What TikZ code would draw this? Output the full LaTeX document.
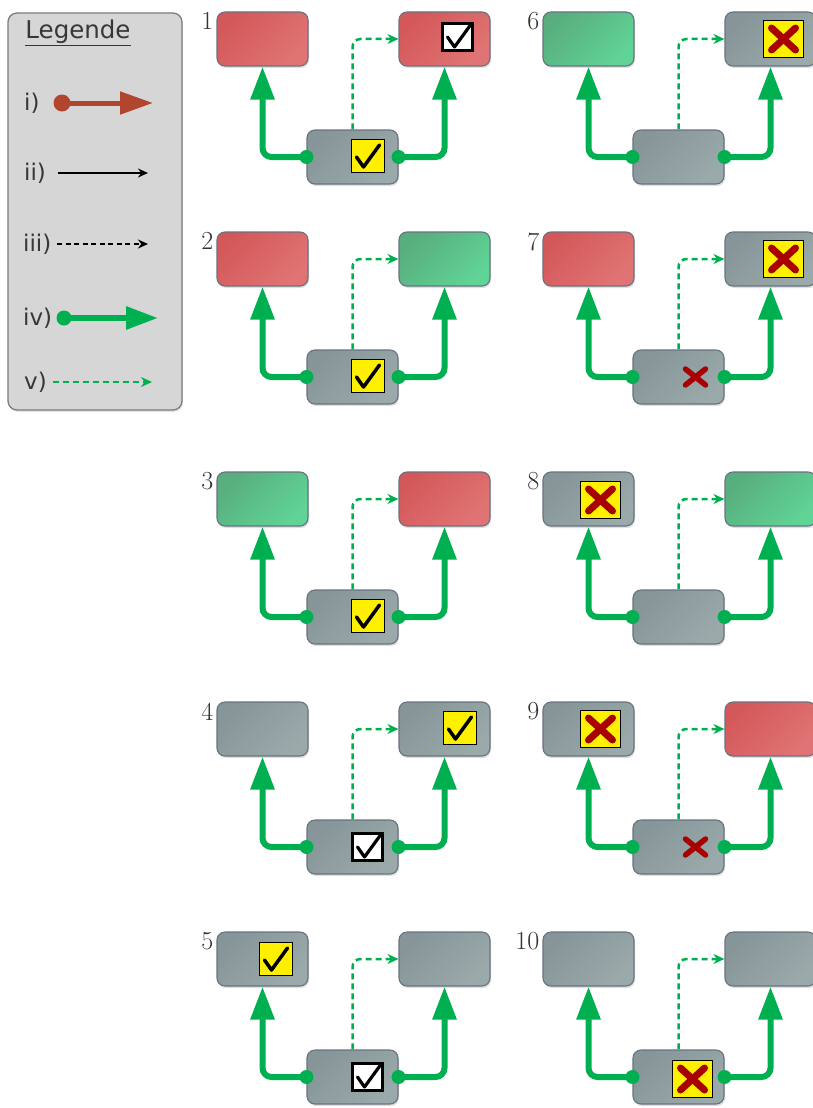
\documentclass[tikz,border=0pt]{standalone}
\usepackage{fontspec}
\newfontfamily\legfont{DejaVu Sans}
\usetikzlibrary{arrows.meta,shadows,calc}

\definecolor{flowgreen}{RGB}{0,176,80}
\definecolor{legbrown}{RGB}{176,70,46}
\definecolor{boxline}{RGB}{105,114,130}
\definecolor{redA}{RGB}{212,88,90}
\definecolor{redB}{RGB}{224,116,116}
\definecolor{greenA}{RGB}{88,174,126}
\definecolor{greenB}{RGB}{96,212,150}
\definecolor{grayA}{RGB}{134,150,152}
\definecolor{grayB}{RGB}{154,169,170}
\definecolor{legfill}{RGB}{214,214,214}
\definecolor{legline}{RGB}{120,124,130}
\definecolor{legtext}{RGB}{55,55,55}
\definecolor{crossred}{RGB}{168,0,0}
\definecolor{tickyellow}{RGB}{255,240,0}

% one scenario: left, right and bottom state boxes with their connectors
\newcommand\panel[7]{%
  \node[statebox,#5] (#1l) at (#2+45.5,#3+27) {};
  \node[statebox,#6] (#1r) at (#2+227.5,#3+27) {};
  \node[statebox,#7] (#1b) at (#2+135.5,#3+145) {};
  \node[num] (#1n) at ([xshift=-3pt,yshift=-1pt]#1l.north west) {#4};
  \draw[signal] (#1b.north) |- (#1r.west);
  \draw[flow] (#1b.west) -| (#1l.south);
  \draw[flow] (#1b.east) -| (#1r.south);
  \fill[flowgreen] (#1b.west) circle (7);
  \fill[flowgreen] (#1b.east) circle (7);
}

\begin{document}
\begin{tikzpicture}[x=1pt,y=-1pt,
  statebox/.style={rounded corners=8pt, minimum width=91pt, minimum height=54pt,
    draw=boxline, line width=1.1pt,
    drop shadow={shadow xshift=1pt,shadow yshift=-2pt,opacity=0.25}},
  redst/.style={top color=redA, bottom color=redB, shading angle=45},
  greenst/.style={top color=greenA, bottom color=greenB, shading angle=45},
  grayst/.style={top color=grayA, bottom color=grayB, shading angle=45},
  num/.style={anchor=north east, inner sep=0pt, font=\fontsize{26}{26}\selectfont, text=black!80},
  flow/.style={flowgreen, line width=6pt, rounded corners=9pt,
    -{Triangle[length=33pt,width=23pt]}},
  signal/.style={flowgreen, line width=2.5pt, dash pattern=on 6pt off 4pt,
    rounded corners=8pt, -{Stealth[length=11pt,width=10pt]}},
  ychk/.style={fill=tickyellow, draw=black, line width=0.8pt, minimum size=33pt, inner sep=0pt,
    path picture={\draw[black, line width=3.5pt, line join=round, line cap=round]
      ([shift={(-11,1)}]path picture bounding box.center) --
      ([shift={(-4,11)}]path picture bounding box.center) --
      ([shift={(12,-11)}]path picture bounding box.center);}},
  wchk/.style={fill=white, draw=black, line width=2.5pt, minimum width=30pt, minimum height=27pt, inner sep=0pt,
    path picture={\draw[black, line width=3.2pt, line join=round, line cap=round]
      ([shift={(-10,0)}]path picture bounding box.center) --
      ([shift={(-3,10)}]path picture bounding box.center) --
      ([shift={(13,-12)}]path picture bounding box.center);}},
  yx/.style={fill=tickyellow, draw=black, line width=0.9pt, minimum width=40pt, minimum height=37pt, inner sep=0pt,
    path picture={\draw[crossred, line width=7pt, line cap=round]
      ([shift={(-12,-11)}]path picture bounding box.center) --
      ([shift={(12,11)}]path picture bounding box.center)
      ([shift={(-12,11)}]path picture bounding box.center) --
      ([shift={(12,-11)}]path picture bounding box.center);}},
  rx/.style={minimum width=30pt, minimum height=26pt, inner sep=0pt,
    path picture={\draw[crossred, line width=5.5pt, line cap=round]
      ([shift={(-10,-8)}]path picture bounding box.center) --
      ([shift={(10,8)}]path picture bounding box.center)
      ([shift={(-10,8)}]path picture bounding box.center) --
      ([shift={(10,-8)}]path picture bounding box.center);}},
  legtxt/.style={anchor=west, inner sep=0pt, text=legtext, font=\legfont\fontsize{23}{23}\selectfont},
]
\useasboundingbox (0,0) rectangle (813,1108);
\clip (0,0) rectangle (813,1108);
\fill[white] (0,0) rectangle (813,1108);

% legend
\node[rounded corners=9pt, fill=legfill, draw=legline, line width=1.3pt,
  minimum width=174pt, minimum height=397pt,
  drop shadow={shadow xshift=1pt,shadow yshift=-2pt,opacity=0.2}] (leg) at (95,211.5) {};
\node[inner sep=0pt, text=legtext, font=\legfont\fontsize{24.5}{24.5}\selectfont] (legtitle) at (78,33) {\underline{Legende}};
\node[legtxt] (li) at (24,103) {i)};
\node[legtxt] (lii) at (24,173) {ii)};
\node[legtxt] (liii) at (23,244) {iii)};
\node[legtxt] (liv) at (23,318) {iv)};
\node[legtxt] (lv) at (24,382) {v)};
\coordinate (l1a) at (62,103);  \coordinate (l1b) at (153,103);
\coordinate (l2a) at (58,173);  \coordinate (l2b) at (148,173);
\coordinate (l3a) at (57,244);  \coordinate (l3b) at (148,244);
\coordinate (l4a) at (64,318);  \coordinate (l4b) at (158,318);
\coordinate (l5a) at (53,382);  \coordinate (l5b) at (152,382);
\draw[legbrown, line width=5pt, -{Triangle[length=33pt,width=22pt]}] (l1a) -- (l1b);
\fill[legbrown] (l1a) circle (8.5);
\draw[black, line width=1.8pt, -{Stealth[length=10pt,width=9pt]}] (l2a) -- (l2b);
\draw[black, line width=1.8pt, dash pattern=on 5pt off 3.5pt, -{Stealth[length=10pt,width=9pt]}] (l3a) -- (l3b);
\draw[flowgreen, line width=6pt, -{Triangle[length=32pt,width=22pt]}] (l4a) -- (l4b);
\fill[flowgreen] (l4a) circle (7.5);
\draw[signal] (l5a) -- (l5b);

% scenarios, left column
\panel{pa}{217}{12}{1}{redst}{redst}{grayst}
\panel{pb}{217}{232}{2}{redst}{greenst}{grayst}
\panel{pc}{217}{472}{3}{greenst}{redst}{grayst}
\panel{pd}{217}{702}{4}{grayst}{grayst}{grayst}
\panel{pe}{217}{932}{5}{grayst}{grayst}{grayst}
% scenarios, right column
\panel{pf}{543}{12}{6}{greenst}{grayst}{grayst}
\panel{pg}{543}{232}{7}{redst}{grayst}{grayst}
\panel{ph}{543}{472}{8}{grayst}{greenst}{grayst}
\panel{pi}{543}{702}{9}{grayst}{redst}{grayst}
\panel{pj}{543}{932}{10}{grayst}{grayst}{grayst}

% state marks
\node[wchk] (pari) at ([shift={(13,-2)}]par.center) {};
\node[ychk] (pabi) at ([shift={(15,-1)}]pab.center) {};
\node[ychk] (pbbi) at ([shift={(15,-1)}]pbb.center) {};
\node[ychk] (pcbi) at ([shift={(15,-1)}]pcb.center) {};
\node[ychk] (pdri) at ([shift={(15,-1)}]pdr.center) {};
\node[wchk] (pdbi) at ([shift={(15,0)}]pdb.center) {};
\node[ychk] (peli) at ([shift={(13,0)}]pel.center) {};
\node[wchk] (pebi) at ([shift={(15,0)}]peb.center) {};
\node[yx] (pfri) at ([shift={(13,0)}]pfr.center) {};
\node[yx] (pgri) at ([shift={(13,0)}]pgr.center) {};
\node[rx] (pgbi) at ([shift={(17,0)}]pgb.center) {};
\node[yx] (phli) at ([shift={(12,1)}]phl.center) {};
\node[yx] (pili) at ([shift={(12,0)}]pil.center) {};
\node[rx] (pibi) at ([shift={(17,0)}]pib.center) {};
\node[yx] (pjbi) at ([shift={(14,2)}]pjb.center) {};
\end{tikzpicture}
\end{document}
